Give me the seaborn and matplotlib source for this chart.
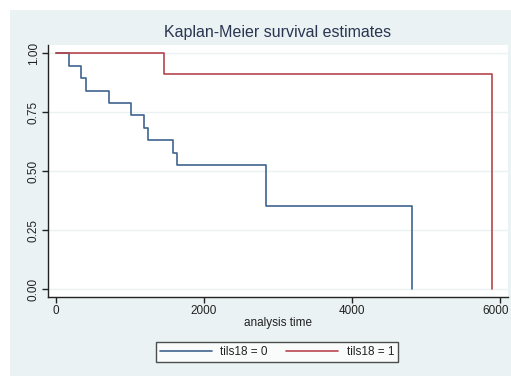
import matplotlib
matplotlib.use("Agg")
import matplotlib.pyplot as plt
import matplotlib.patches as mpatches
import matplotlib.transforms as mtransforms
from matplotlib.lines import Line2D
import seaborn as sns
import pandas as pd

# Kaplan-Meier step estimates per group
times_0 = [0, 180, 334, 401, 712, 1009, 1194, 1248, 1577, 1635, 2838, 4815]
surv_0 = [1.0, 0.947, 0.895, 0.842, 0.789, 0.737, 0.684, 0.632, 0.579, 0.526, 0.351, 0.0]
times_1 = [0, 1455, 5896]
surv_1 = [1.0, 0.914, 0.0]

group_labels = ["tils18 = 0", "tils18 = 1"]
x_ticks = [0, 2000, 4000, 6000]
y_ticks = [0.0, 0.25, 0.5, 0.75, 1.0]

df = pd.DataFrame({
    "time": times_0 + times_1,
    "survival": surv_0 + surv_1,
    "group": [group_labels[0]] * len(times_0) + [group_labels[1]] * len(times_1),
})

sns.set_theme(style="white")
plt.rcParams["font.family"] = ["Liberation Sans", "DejaVu Sans"]

BG = "#eaf2f3"
BLUE = "#3f648d"
RED = "#b8454e"
palette = {group_labels[0]: BLUE, group_labels[1]: RED}

fig = plt.figure(figsize=(5.11, 3.76), dpi=100)
W, H = 511, 376
fig.patch.set_facecolor("white")
# light panel behind the whole graph
fig.patches.append(mpatches.Rectangle((10 / W, 0), 1 - 10 / W, 1 - 10 / H,
                                      transform=fig.transFigure,
                                      facecolor=BG, edgecolor="none", zorder=-5))

ax = fig.add_axes([48 / W, 1 - 297 / H, (508 - 48) / W, (297 - 45) / H])
ax.set_facecolor("white")

sns.lineplot(data=df, x="time", y="survival", hue="group", palette=palette,
             estimator=None, drawstyle="steps-post", linewidth=1.2,
             legend=False, ax=ax)

ax.set_xlim(-108, 6108)
ax.set_ylim(-0.033, 1.035)
ax.set_xticks(x_ticks)
ax.set_xticklabels([str(t) for t in x_ticks], fontsize=8.5, color="#222222")
ax.set_yticks(y_ticks)
ax.set_yticklabels([f"{v:.2f}" for v in y_ticks], fontsize=8.5, color="#222222",
                   rotation=90, va="center")
ax.yaxis.grid(True, color=BG, linewidth=1.0)
ax.xaxis.grid(False)
ax.set_axisbelow(True)

for side in ["top", "right"]:
    ax.spines[side].set_visible(False)
for side in ["left", "bottom"]:
    ax.spines[side].set_color("#222222")
    ax.spines[side].set_linewidth(1.0)
ax.tick_params(axis="both", which="major", direction="out", length=4, width=1,
               color="#222222", pad=2, bottom=True, left=True)

# keep the last x tick label inside the figure edge
last = ax.get_xticklabels()[-1]
last.set_transform(last.get_transform() +
                   mtransforms.ScaledTranslation(-4 / 100, 0, fig.dpi_scale_trans))

ax.set_xlabel("analysis time", fontsize=8.5, color="#222222", labelpad=0)
ax.set_ylabel("")

fig.text(278 / W, 1 - 32 / H, "Kaplan-Meier survival estimates",
         ha="center", va="center", fontsize=11.5, color="#2a3550")

handles = [Line2D([], [], color=BLUE, linewidth=1.2),
           Line2D([], [], color=RED, linewidth=1.2)]
leg = fig.legend(handles, group_labels, loc="center",
                 bbox_to_anchor=(277 / W, 1 - 352 / H), ncol=2, frameon=True,
                 fancybox=False, fontsize=8.5, handlelength=4.4,
                 columnspacing=1.6, handletextpad=0.7, borderpad=0.35)
leg.get_frame().set_edgecolor("#222222")
leg.get_frame().set_linewidth(1.0)
leg.get_frame().set_facecolor("white")
for t in leg.get_texts():
    t.set_color("#222222")

fig.savefig("out.png", dpi=100)
